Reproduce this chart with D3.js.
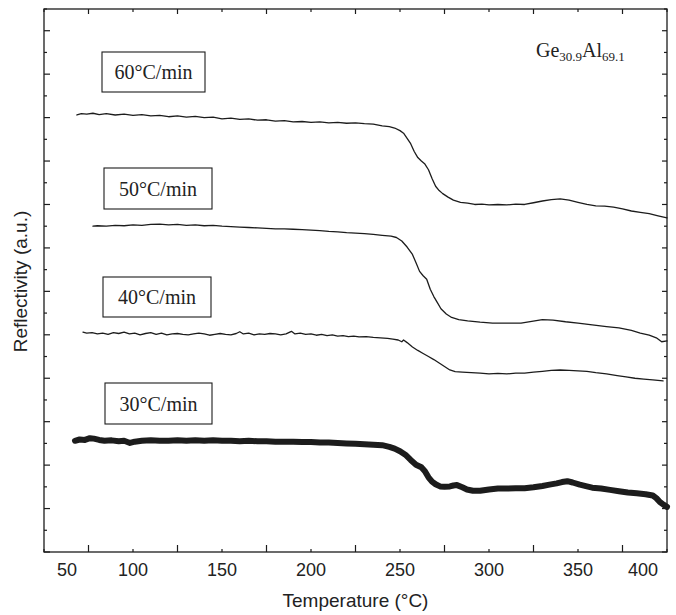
<!DOCTYPE html>
<html>
<head>
<meta charset="utf-8">
<script src="https://cdn.jsdelivr.net/npm/d3@7"></script>
<style>
	body { margin: 0; background: #fff; }
	svg { display: block; }
</style>
</head>
<body>
<svg id="chart" width="676" height="615"></svg>
<script>

// temperature (°C), reflectivity (a.u.)
var rate60 = [[68.5,10.06],[71,10.09],[74,10.08],[77.5,10.1],[81,10.07],[85,10.09],[90,10.06],[95,10.08],[100,10.05],[105,10.07],[110,10.04],[115,10.05],[120,10.02],[125,10.04],[130,10.01],[135,10.03],[140,10.0],[145,10.01],[150,9.97],[155,9.99],[160,9.96],[165,9.97],[170,9.94],[175,9.95],[180,9.92],[185,9.93],[190,9.9],[195,9.91],[200,9.89],[205,9.9],[210,9.88],[215,9.89],[220,9.87],[225,9.88],[230,9.86],[235,9.85],[240,9.81],[244,9.79],[247,9.76],[250,9.7],[252,9.64],[254,9.52],[256,9.4],[258,9.22],[260,9.08],[262,9.0],[264,8.93],[266,8.8],[268,8.6],[270,8.42],[272,8.32],[274,8.25],[277,8.17],[280,8.1],[284,8.05],[288,8.03],[292,8.0],[296,8.01],[300,7.99],[305,8.0],[310,7.99],[315,8.01],[320,8.0],[325,8.04],[330,8.08],[335,8.11],[340,8.13],[345,8.1],[350,8.05],[355,8.0],[360,7.97],[365,7.96],[370,7.94],[375,7.9],[380,7.85],[385,7.82],[390,7.79],[395,7.74],[400,7.69]];

var rate50 = [[77.5,7.5],[80,7.51],[85,7.5],[90,7.52],[95,7.51],[100,7.53],[105,7.52],[110,7.54],[115,7.55],[120,7.53],[125,7.54],[130,7.52],[135,7.53],[140,7.51],[145,7.52],[150,7.5],[155,7.49],[160,7.48],[165,7.47],[170,7.46],[175,7.45],[180,7.44],[185,7.44],[190,7.43],[195,7.42],[200,7.41],[205,7.4],[210,7.38],[215,7.37],[220,7.35],[225,7.34],[230,7.33],[235,7.31],[240,7.29],[245,7.27],[248,7.24],[251,7.16],[254,7.02],[257,6.85],[259,6.66],[261,6.46],[263,6.36],[265,6.28],[267,6.05],[269,5.88],[271,5.74],[273,5.6],[276,5.48],[279,5.4],[283,5.35],[288,5.32],[295,5.29],[302,5.27],[310,5.27],[318,5.27],[324,5.31],[330,5.35],[336,5.34],[343,5.3],[350,5.27],[358,5.23],[366,5.19],[373,5.16],[380,5.1],[385,5.04],[390,4.99],[394,4.93],[397,4.84],[400,4.86]];

var rate40 = [[71.9,5.06],[74,5.04],[77,5.05],[80,5.02],[83,5.04],[86,5.01],[89,5.05],[92,5.03],[95,5.06],[98,5.02],[101,5.04],[104,5.0],[107,5.03],[110,5.05],[113,5.01],[116,5.04],[119,5.0],[122,5.02],[125,5.03],[128,5.01],[131,5.0],[134,5.02],[137,5.04],[140,5.02],[143,4.99],[146,5.01],[149,5.03],[152,5.01],[155,5.0],[158,5.03],[160,5.07],[162,5.02],[165,5.04],[168,5.0],[171,5.02],[174,5.01],[177,5.03],[180,5.02],[183,5.0],[186,5.02],[189,5.08],[191,5.02],[194,5.04],[197,5.01],[200,5.02],[203,4.99],[206,5.01],[209,4.98],[212,5.0],[215,4.97],[218,4.98],[221,4.96],[224,4.97],[227,4.95],[231,4.96],[235,4.94],[239,4.93],[243,4.92],[246,4.9],[249,4.88],[251,4.84],[252,4.88],[254,4.82],[257,4.72],[260,4.64],[263,4.57],[266,4.5],[269,4.43],[272,4.35],[275,4.27],[278,4.19],[281,4.15],[285,4.14],[290,4.13],[295,4.12],[300,4.1],[305,4.11],[310,4.1],[315,4.12],[320,4.12],[325,4.14],[330,4.16],[335,4.18],[340,4.19],[345,4.18],[350,4.17],[355,4.16],[360,4.13],[366,4.1],[372,4.06],[377,4.03],[382,4.0],[387,3.98],[392,3.96],[397.8,3.94]];

var rate30 = [[67.4,2.56],[70,2.59],[73,2.58],[75.8,2.62],[78,2.61],[81,2.58],[84,2.56],[88,2.57],[92,2.55],[95,2.56],[98.3,2.51],[101,2.54],[105,2.56],[110,2.57],[115,2.56],[120,2.56],[125,2.57],[130,2.56],[135,2.57],[140,2.56],[145,2.57],[150,2.56],[155,2.56],[160,2.55],[165,2.56],[170,2.55],[175,2.55],[180,2.54],[185,2.54],[190,2.54],[195,2.53],[200,2.53],[205,2.52],[210,2.52],[215,2.51],[220,2.5],[225,2.49],[230,2.48],[235,2.47],[240,2.46],[244,2.42],[247,2.38],[250,2.32],[253,2.24],[256,2.12],[259,2.01],[262,1.95],[264,1.86],[266,1.72],[268,1.62],[270,1.56],[272.5,1.51],[275,1.5],[278,1.51],[280,1.53],[282,1.54],[285,1.49],[287.6,1.44],[291,1.41],[295,1.41],[300,1.44],[305,1.46],[310,1.46],[315,1.47],[320,1.47],[325,1.49],[330,1.52],[334,1.55],[338,1.58],[341,1.61],[344,1.63],[347,1.6],[351,1.55],[355,1.51],[358,1.48],[363,1.46],[368,1.43],[373,1.4],[378,1.37],[383,1.35],[388,1.33],[392,1.3],[394,1.24],[396,1.15],[398,1.09],[400,1.04]];

var seriesNames = ["60°C/min", "50°C/min", "40°C/min", "30°C/min"];
var seriesData = [rate60, rate50, rate40, rate30];

var xTickLabels = [50, 100, 150, 200, 250, 300, 350, 400];
var xMajorTicks = [75, 125, 175, 225, 275, 325, 375];
var yMajorTicks = d3.range(0, 13, 1);
var yMinorTicks = d3.range(0.5, 13, 1);

var margin = {top: 9, right: 9, bottom: 63, left: 44},
	width = 676,
	height = 615,
	w = width - margin.left - margin.right,
	h = height - margin.top - margin.bottom;

var svg = d3.select("#chart");
var g = svg.append("g").attr("transform", `translate(${margin.left},${margin.top})`);

var x = d3.scaleLinear().domain([50, 400]).range([0, w]);
var y = d3.scaleLinear().domain([0, 12.5]).range([h, 0]);

var ink = "#1c1c1c";

// box-label placement, in pixels relative to the plot
var labelBoxes = [
	{x: 58, y: 43, w: 103, h: 40},
	{x: 60, y: 159, w: 108, h: 41},
	{x: 59, y: 268, w: 108, h: 40},
	{x: 61, y: 374, w: 107, h: 41}
];

var line = d3.line()
	.x(d => x(d[0]))
	.y(d => y(d[1]));

g.append("g")
	.selectAll("path")
	.data(seriesData)
	.join("path")
	.attr("d", line)
	.attr("fill", "none")
	.attr("stroke", ink)
	.attr("stroke-width", (d, i) => i == 3 ? 6 : 1.3)
	.attr("stroke-linejoin", "round")
	.attr("stroke-linecap", "round");

// frame
g.append("rect")
	.attr("width", w)
	.attr("height", h)
	.attr("fill", "none")
	.attr("stroke", ink)
	.attr("stroke-width", 1.3);

// inward ticks on all four sides
var ticks = g.append("g").attr("stroke", ink).attr("stroke-width", 1.2);
ticks.selectAll(".xb").data(xMajorTicks.map(v => [v, 7]).concat(xTickLabels.map(v => [v, 3])))
	.join("line")
	.attr("x1", d => x(d[0])).attr("x2", d => x(d[0]))
	.attr("y1", h).attr("y2", d => h - d[1]);
ticks.selectAll(".xt").data(xMajorTicks.map(v => [v, 5]).concat(xTickLabels.map(v => [v, 3])))
	.join("line")
	.attr("x1", d => x(d[0])).attr("x2", d => x(d[0]))
	.attr("y1", 0).attr("y2", d => d[1]);
ticks.selectAll(".yl").data(yMajorTicks.map(v => [v, 6]).concat(yMinorTicks.map(v => [v, 3])))
	.join("line")
	.attr("y1", d => y(d[0])).attr("y2", d => y(d[0]))
	.attr("x1", 0).attr("x2", d => d[1]);
ticks.selectAll(".yr").data(yMajorTicks.map(v => [v, 5]).concat(yMinorTicks.map(v => [v, 3])))
	.join("line")
	.attr("y1", d => y(d[0])).attr("y2", d => y(d[0]))
	.attr("x1", w).attr("x2", d => w - d[1]);

// tick labels (end ones pulled inside the frame)
g.append("g")
	.attr("font-family", "'Liberation Sans', Arial, sans-serif")
	.attr("font-size", 18)
	.attr("fill", "#222")
	.attr("text-anchor", "middle")
	.selectAll("text")
	.data(xTickLabels)
	.join("text")
	.attr("x", d => x(d))
	.attr("dx", (d, i) => i == 0 ? 23 : i == xTickLabels.length - 1 ? -24 : 0)
	.attr("y", h + 24)
	.text(d => d);

svg.append("text")
	.attr("x", margin.left + w / 2)
	.attr("y", 607)
	.attr("text-anchor", "middle")
	.attr("font-family", "'Liberation Sans', Arial, sans-serif")
	.attr("font-size", 19)
	.attr("fill", "#222")
	.text("Temperature (°C)");

svg.append("text")
	.attr("transform", `translate(27,${margin.top + h / 2 + 1}) rotate(-90)`)
	.attr("text-anchor", "middle")
	.attr("font-family", "'Liberation Sans', Arial, sans-serif")
	.attr("font-size", 19)
	.attr("fill", "#222")
	.text("Reflectivity (a.u.)");

// heating-rate labels
var lab = g.append("g")
	.selectAll("g")
	.data(seriesNames)
	.join("g")
	.attr("transform", (d, i) => `translate(${labelBoxes[i].x},${labelBoxes[i].y})`);
lab.append("rect")
	.attr("width", (d, i) => labelBoxes[i].w)
	.attr("height", (d, i) => labelBoxes[i].h)
	.attr("fill", "#fff")
	.attr("stroke", ink)
	.attr("stroke-width", 1.1);
lab.append("text")
	.attr("x", (d, i) => labelBoxes[i].w / 2)
	.attr("y", (d, i) => labelBoxes[i].h / 2 + 7)
	.attr("text-anchor", "middle")
	.attr("font-family", "'Liberation Serif', 'Times New Roman', serif")
	.attr("font-size", 20)
	.attr("fill", "#222")
	.text(d => d);

// composition
var comp = svg.append("text")
	.attr("x", 536)
	.attr("y", 57)
	.attr("font-family", "'Liberation Serif', 'Times New Roman', serif")
	.attr("font-size", 20)
	.attr("fill", "#222");
comp.append("tspan").text("Ge");
comp.append("tspan").attr("font-size", 13).attr("dy", 4).text("30.9");
comp.append("tspan").attr("dy", -4).text("Al");
comp.append("tspan").attr("font-size", 13).attr("dy", 4).text("69.1");

</script>
</body>
</html>
